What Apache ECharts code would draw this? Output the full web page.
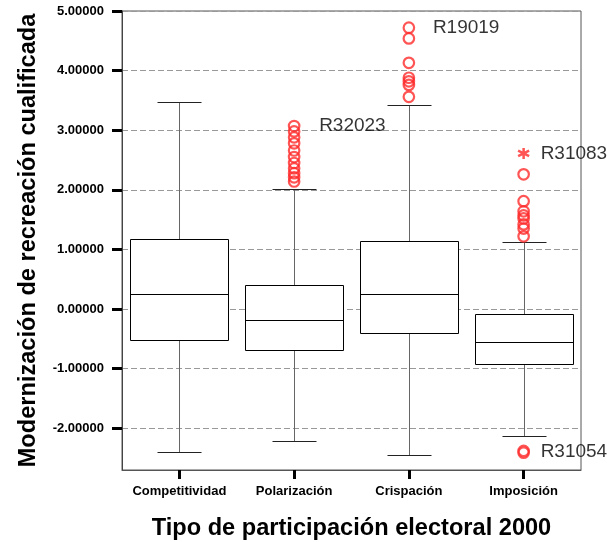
<!DOCTYPE html>
<html>
<head>
<meta charset="utf-8">
<script src="https://cdn.jsdelivr.net/npm/echarts@6/dist/echarts.min.js"></script>
<style>html,body{margin:0;padding:0;background:#fff}#chart{width:607px;height:542px}</style>
</head>
<body>
<div id="chart"></div>
<script>
const categories = ['Competitividad', 'Polarización', 'Crispación', 'Imposición'];
const whiskerLow  = [-2.39, -2.22, -2.44, -2.13];
const quartile1   = [-0.52, -0.69, -0.41, -0.93];
const medians     = [0.26, -0.19, 0.26, -0.55];
const quartile3   = [1.17, 0.41, 1.14, -0.09];
const whiskerHigh = [3.48, 2.01, 3.42, 1.12];

const outlierCategory = [1,1,1,1,1,1,1,1,1,1,1, 2,2,2,2,2,2,2, 3,3,3,3,3,3,3,3,3,3];
const outlierValue    = [3.07,2.98,2.88,2.78,2.66,2.55,2.45,2.36,2.28,2.21,2.14,
                         4.72,4.54,4.13,3.88,3.82,3.76,3.56,
                         2.26,1.81,1.64,1.57,1.52,1.42,1.35,1.22,-2.38,-2.41];
const extremeCategory = [3];
const extremeValue    = [2.61];

const caseLabelText     = ['R32023', 'R19019', 'R31083', 'R31054'];
const caseLabelCategory = [1, 2, 3, 3];
const caseLabelValue    = [3.07, 4.72, 2.61, -2.395];

const yTicks = [-2, -1, 0, 1, 2, 3, 4, 5];
const yMin = -2.7, yMax = 5;

const FONT = 'Liberation Sans, Arial, Helvetica, sans-serif';
const RED = '#ff2a2a';

const boxData = categories.map((c, i) => [i, whiskerLow[i], quartile1[i], medians[i], quartile3[i], whiskerHigh[i]]);
const outlierData = outlierCategory.map((c, i) => [c, outlierValue[i]]);
const extremeData = extremeCategory.map((c, i) => [c, extremeValue[i]]);
const labelDistances = [25, 24, 17, 17];
const labelData = caseLabelText.map((t, i) => ({
  value: [caseLabelCategory[i], caseLabelValue[i]],
  label: { formatter: t, distance: labelDistances[i] }
}));

function px(v) { return Math.round(v) + 0.5; }

const chart = echarts.init(document.getElementById('chart'), null, { renderer: 'canvas' });
chart.setOption({
  animation: false,
  backgroundColor: '#fff',
  grid: { left: 122, right: 26, top: 11, bottom: 72, containLabel: false, outerBoundsMode: 'none',
    show: true, borderColor: '#555', borderWidth: 1, backgroundColor: 'transparent' },
  xAxis: {
    type: 'category',
    data: categories,
    boundaryGap: true,
    name: 'Tipo de participación electoral 2000',
    nameLocation: 'middle',
    nameGap: 46,
    nameTextStyle: { fontFamily: FONT, fontWeight: 'bold', fontSize: 23.6, color: '#000' },
    axisLine: { show: true, onZero: false, lineStyle: { color: '#555', width: 1 } },
    axisTick: { show: true, interval: 0, alignWithLabel: true, length: 9, lineStyle: { color: '#000', width: 3 } },
    axisLabel: { interval: 0, hideOverlap: false, fontFamily: FONT, fontWeight: 'bold', fontSize: 13, color: '#000', margin: 15 },
    splitLine: { show: false }
  },
  yAxis: {
    type: 'value',
    min: yMin,
    max: yMax,
    name: 'Modernización de recreación cualificada',
    nameLocation: 'middle',
    nameGap: 82,
    nameRotate: 90,
    nameTextStyle: { fontFamily: FONT, fontWeight: 'bold', fontSize: 23.6, color: '#000' },
    axisLine: { show: true, onZero: false, lineStyle: { color: '#444', width: 1 } },
    axisTick: { show: true, customValues: yTicks, length: 10, lineStyle: { color: '#000', width: 3 } },
    axisLabel: { customValues: yTicks, fontFamily: FONT, fontWeight: 'bold', fontSize: 13, color: '#000', margin: 18,
      formatter: v => v.toFixed(5) },
    splitLine: { show: true, lineStyle: { color: '#999', type: [6, 3], width: 1 } }
  },
  series: [
    {
      type: 'custom',
      data: boxData,
      z: 3,
      renderItem: function (params, api) {
        const idx = api.value(0);
        const band = api.size([1, 0])[0];
        const boxW = band * 0.855;
        const capW = 44;
        const pLow = api.coord([idx, api.value(1)]);
        const pQ1 = api.coord([idx, api.value(2)]);
        const pMed = api.coord([idx, api.value(3)]);
        const pQ3 = api.coord([idx, api.value(4)]);
        const pHigh = api.coord([idx, api.value(5)]);
        const cx = px(pLow[0]);
        const x0 = px(pLow[0] - boxW / 2), x1 = px(pLow[0] + boxW / 2);
        return {
          type: 'group',
          children: [
            { type: 'line', shape: { x1: cx, y1: px(pHigh[1]), x2: cx, y2: px(pQ3[1]) }, style: { stroke: '#666', lineWidth: 1 } },
            { type: 'line', shape: { x1: cx, y1: px(pQ1[1]), x2: cx, y2: px(pLow[1]) }, style: { stroke: '#666', lineWidth: 1 } },
            { type: 'line', shape: { x1: px(pLow[0] - capW / 2), y1: px(pHigh[1]), x2: px(pLow[0] + capW / 2), y2: px(pHigh[1]) }, style: { stroke: '#222', lineWidth: 1 } },
            { type: 'line', shape: { x1: px(pLow[0] - capW / 2), y1: px(pLow[1]), x2: px(pLow[0] + capW / 2), y2: px(pLow[1]) }, style: { stroke: '#222', lineWidth: 1 } },
            { type: 'rect', shape: { x: x0, y: px(pQ3[1]), width: x1 - x0, height: px(pQ1[1]) - px(pQ3[1]) }, style: { fill: '#fff', stroke: '#000', lineWidth: 1 } },
            { type: 'line', shape: { x1: x0, y1: px(pMed[1]), x2: x1, y2: px(pMed[1]) }, style: { stroke: '#000', lineWidth: 1 } }
          ]
        };
      }
    },
    {
      type: 'scatter',
      data: outlierData,
      z: 4,
      symbol: 'circle',
      symbolSize: 10.5,
      itemStyle: { color: 'rgba(0,0,0,0)', borderColor: RED, borderWidth: 2.2 }
    },
    {
      type: 'scatter',
      data: extremeData,
      z: 4,
      symbol: 'path://M0,-5L0,5M-4.33,-2.5L4.33,2.5M-4.33,2.5L4.33,-2.5',
      symbolSize: 11,
      itemStyle: { color: RED, borderColor: RED, borderWidth: 2.5 }
    },
    {
      type: 'scatter',
      data: labelData,
      z: 5,
      symbolSize: 0,
      silent: true,
      label: { show: true, position: 'right', fontFamily: FONT, fontSize: 19, color: '#000' }
    }
  ]
});
</script>
</body>
</html>
